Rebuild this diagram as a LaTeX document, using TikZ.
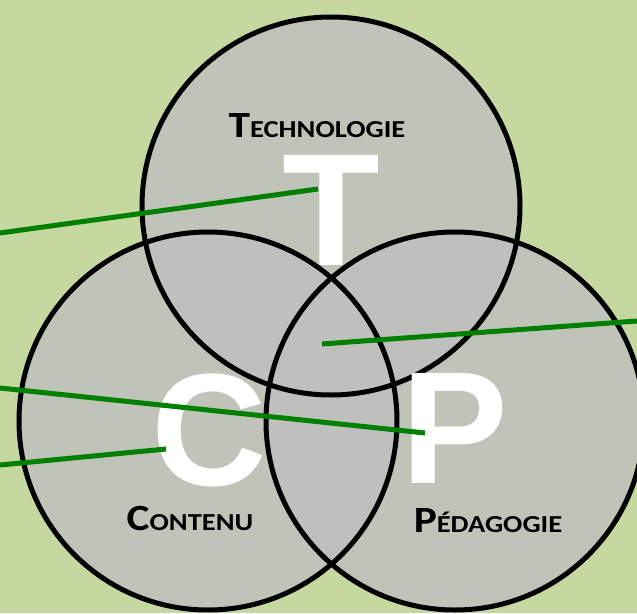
\documentclass[tikz,border=0pt]{standalone}
\usepackage{fontspec}
\setmainfont{Carlito}
\newfontfamily\bigletter{Liberation Sans}
\usetikzlibrary{positioning}
\definecolor{bggreen}{RGB}{197,216,160}
\definecolor{discgray}{RGB}{191,191,191}
\definecolor{linegreen}{RGB}{0,128,0}
% fake small caps, stretched a little to the original width
\newcommand{\scword}[2]{\scalebox{1.17}[1]{\bfseries{\fontsize{37}{37}\selectfont #1}{\fontsize{24.4}{24.4}\selectfont #2}}}
\tikzset{
disc/.style={circle, inner sep=0pt, minimum size=378pt},
discfill/.style={disc, fill=discgray, fill opacity=0.8},
discline/.style={disc, draw=black, line width=5pt},
bigchar/.style={text=white, inner sep=0pt, anchor=base, text height=112pt, text depth=0pt,
  font=\bigletter\bfseries\fontsize{160}{160}\selectfont},
caption/.style={inner sep=0pt, anchor=base, text depth=0pt},
pointer/.style={draw=linegreen, line width=5pt}}

\begin{document}
\begin{tikzpicture}[x=1pt, y=-1pt]
\fill[bggreen] (0,0) rectangle (637,613);
\useasboundingbox (0,0) rectangle (637,613);
\clip (0,0) rectangle (637,613);
% the three discs
\foreach \name/\pos in {tcirc/{(331,206)}, ccirc/{(208,421)}, pcirc/{(455,421)}}
  \node[discfill] at \pos {};
\foreach \name/\pos in {tcirc/{(331,206)}, ccirc/{(208,421)}, pcirc/{(455,421)}}
  \node[discline] (\name) at \pos {};
% big letters
\node[bigchar] (T) at (331,265) {T};
\node[bigchar] (C) at (209,485) {C};
\node[bigchar] (P) at (455,483) {P};
% labels
\node[caption] (techno) at (317,137) {\scword{T}{ECHNOLOGIE}};
\node[caption] (contenu) at (190,530) {\scword{C}{ONTENU}};
\node[caption] (peda) at (488,532) {\scword{P}{ÉDAGOGIE}};
% pointers
\coordinate (t0) at (0,233);
\coordinate (t1) at (318,189);
\coordinate (m0) at (637,321);
\coordinate (m1) at (322,344);
\coordinate (p0) at (0,388);
\coordinate (p1) at (425,433);
\coordinate (c0) at (0,465);
\coordinate (c1) at (166,449);
\draw[pointer] (t0) -- (t1);
\draw[pointer] (m0) -- (m1);
\draw[pointer] (p0) -- (p1);
\draw[pointer] (c0) -- (c1);
\end{tikzpicture}
\end{document}
